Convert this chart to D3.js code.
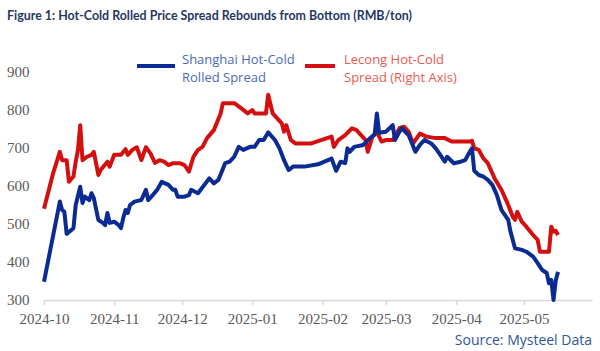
<!DOCTYPE html>
<html>
<head>
<meta charset="utf-8">
<script src="https://cdn.jsdelivr.net/npm/d3@7"></script>
<style>
  body { margin: 0; background: #fff; }
  svg { display: block; }
</style>
</head>
<body>
<div id="chart"></div>
<script>
// data
var shanghaiDates = ["2024-10-01","2024-10-08","2024-10-09","2024-10-10","2024-10-11","2024-10-14","2024-10-15","2024-10-17","2024-10-18","2024-10-19","2024-10-21","2024-10-22","2024-10-23","2024-10-25","2024-10-27","2024-10-28","2024-10-29","2024-10-30","2024-11-01","2024-11-03","2024-11-04","2024-11-05","2024-11-06","2024-11-07","2024-11-08","2024-11-10","2024-11-13","2024-11-15","2024-11-16","2024-11-18","2024-11-20","2024-11-22","2024-11-25","2024-11-27","2024-11-28","2024-11-29","2024-12-02","2024-12-04","2024-12-05","2024-12-08","2024-12-13","2024-12-15","2024-12-17","2024-12-20","2024-12-22","2024-12-24","2024-12-26","2024-12-28","2024-12-31","2025-01-02","2025-01-04","2025-01-06","2025-01-08","2025-01-11","2025-01-13","2025-01-15","2025-01-17","2025-01-19","2025-01-24","2025-01-30","2025-02-05","2025-02-07","2025-02-09","2025-02-11","2025-02-12","2025-02-13","2025-02-15","2025-02-19","2025-02-22","2025-02-24","2025-02-25","2025-02-26","2025-03-01","2025-03-04","2025-03-05","2025-03-07","2025-03-08","2025-03-11","2025-03-14","2025-03-16","2025-03-18","2025-03-21","2025-03-23","2025-03-25","2025-03-27","2025-03-28","2025-03-31","2025-04-03","2025-04-05","2025-04-07","2025-04-08","2025-04-09","2025-04-11","2025-04-13","2025-04-15","2025-04-17","2025-04-19","2025-04-21","2025-04-24","2025-04-25","2025-04-27","2025-04-30","2025-05-02","2025-05-05","2025-05-07","2025-05-09","2025-05-11","2025-05-12","2025-05-13","2025-05-14","2025-05-15","2025-05-16"];
var shanghaiValues = [348,559,537,532,474,489,550,598,555,572,563,581,568,511,503,497,529,503,506,497,489,516,537,529,550,559,563,590,563,576,590,611,603,590,590,572,572,576,590,581,620,607,616,660,664,677,703,695,703,703,721,721,741,721,699,668,642,651,651,657,672,640,664,660,699,690,703,708,726,735,791,740,743,760,721,743,752,734,690,708,721,712,699,682,664,677,660,664,668,690,699,640,629,625,616,603,576,537,511,480,436,432,427,414,397,379,371,344,353,300,352,374];

var lecongDates = ["2024-10-01","2024-10-05","2024-10-08","2024-10-09","2024-10-11","2024-10-12","2024-10-14","2024-10-15","2024-10-16","2024-10-17","2024-10-18","2024-10-20","2024-10-22","2024-10-23","2024-10-25","2024-10-26","2024-10-29","2024-10-30","2024-11-01","2024-11-04","2024-11-06","2024-11-07","2024-11-09","2024-11-11","2024-11-13","2024-11-15","2024-11-17","2024-11-19","2024-11-21","2024-11-23","2024-11-25","2024-11-27","2024-11-30","2024-12-02","2024-12-03","2024-12-04","2024-12-06","2024-12-08","2024-12-10","2024-12-12","2024-12-15","2024-12-18","2024-12-19","2024-12-24","2024-12-27","2024-12-30","2025-01-01","2025-01-02","2025-01-07","2025-01-08","2025-01-10","2025-01-12","2025-01-14","2025-01-15","2025-01-16","2025-01-18","2025-01-20","2025-01-27","2025-02-05","2025-02-06","2025-02-08","2025-02-11","2025-02-14","2025-02-16","2025-02-18","2025-02-20","2025-02-21","2025-02-23","2025-02-25","2025-02-27","2025-03-01","2025-03-04","2025-03-07","2025-03-09","2025-03-11","2025-03-13","2025-03-16","2025-03-19","2025-03-23","2025-03-27","2025-03-30","2025-04-04","2025-04-07","2025-04-08","2025-04-09","2025-04-11","2025-04-13","2025-04-15","2025-04-18","2025-04-21","2025-04-24","2025-04-26","2025-04-27","2025-04-28","2025-04-30","2025-05-02","2025-05-05","2025-05-07","2025-05-08","2025-05-12","2025-05-13","2025-05-14","2025-05-15","2025-05-16"];
var lecongValues = [540,633,690,668,668,611,625,664,695,760,668,677,682,690,629,642,664,651,682,682,697,682,695,702,668,702,686,661,668,664,655,660,660,655,647,638,677,695,703,726,747,791,818,818,805,791,800,791,791,840,791,778,765,743,760,721,712,712,730,703,721,734,752,747,734,721,690,730,743,717,721,721,752,756,743,712,738,730,726,726,717,717,717,719,699,695,673,660,620,590,550,519,511,532,506,493,471,458,427,427,493,480,482,471];

var monthTicks = ["2024-10","2024-11","2024-12","2025-01","2025-02","2025-03","2025-04","2025-05"];
var leftTicks = [300,400,500,600,700,800,900];

var W = 600, H = 351;
var margin = {top: 72, right: 8, bottom: 51, left: 44};
var parseDay = d3.timeParse("%Y-%m-%d");
var parseMonth = d3.timeParse("%Y-%m");

var svg = d3.select("#chart")
    .append("svg")
    .attr("width", W)
    .attr("height", H);

var x = d3.scaleTime()
    .domain([parseDay("2024-10-01"), parseDay("2025-05-31")])
    .range([margin.left, W - margin.right]);

var y = d3.scaleLinear()
    .domain([300, 900])
    .range([H - margin.bottom, margin.top]);

// right axis is not labelled in the picture, same span as left
var yRight = d3.scaleLinear()
    .domain([300, 900])
    .range([H - margin.bottom, margin.top]);

// title
svg.append("text")
    .attr("x", 7)
    .attr("y", 20)
    .attr("font-family", "Lato, 'Open Sans', sans-serif")
    .attr("font-weight", "bold")
    .attr("font-size", 14)
    .attr("fill", "#1f3864")
    .attr("textLength", 405)
    .attr("lengthAdjust", "spacingAndGlyphs")
    .text("Figure 1: Hot-Cold Rolled Price Spread Rebounds from Bottom (RMB/ton)");

// x axis
var xAxis = svg.append("g")
    .attr("transform", `translate(0,${H - margin.bottom})`)
    .call(d3.axisBottom(x)
        .tickValues(monthTicks.map(function(m) { return parseMonth(m); }))
        .tickFormat(d3.timeFormat("%Y-%m"))
        .tickSizeInner(5)
        .tickSizeOuter(0)
        .tickPadding(8));
xAxis.select(".domain").attr("stroke", "#d9d9d9").attr("stroke-width", 1.5);
xAxis.selectAll(".tick line").attr("stroke", "#d9d9d9").attr("stroke-width", 1.5);
xAxis.selectAll(".tick text")
    .attr("font-family", "'Liberation Serif', 'DejaVu Serif', serif")
    .attr("font-size", 15)
    .attr("fill", "#595959");

// y axis (labels only)
var yAxis = svg.append("g")
    .attr("transform", `translate(${margin.left},0)`)
    .call(d3.axisLeft(y)
        .tickValues(leftTicks)
        .tickFormat(d3.format("d"))
        .tickSize(0)
        .tickPadding(12));
yAxis.select(".domain").remove();
yAxis.selectAll(".tick text")
    .attr("text-anchor", "start")
    .attr("x", -37)
    .attr("font-family", "'Liberation Serif', 'DejaVu Serif', serif")
    .attr("font-size", 15)
    .attr("fill", "#595959");

var shanghai = shanghaiDates.map(function(d, i) { return {date: parseDay(d), value: shanghaiValues[i]}; });
var lecong = lecongDates.map(function(d, i) { return {date: parseDay(d), value: lecongValues[i]}; });

svg.append("path")
    .datum(lecong)
    .attr("fill", "none")
    .attr("stroke", "#d40f0f")
    .attr("stroke-width", 4)
    .attr("stroke-linejoin", "round")
    .attr("d", d3.line()
        .x(function(d) { return x(d.date) })
        .y(function(d) { return yRight(d.value) })
    );

svg.append("path")
    .datum(shanghai)
    .attr("fill", "none")
    .attr("stroke", "#0a2b93")
    .attr("stroke-width", 4)
    .attr("stroke-linejoin", "round")
    .attr("d", d3.line()
        .x(function(d) { return x(d.date) })
        .y(function(d) { return y(d.value) })
    );

// legend
var legendFont = "'Open Sans', 'Noto Sans', sans-serif";
svg.append("line")
    .attr("x1", 137).attr("x2", 175).attr("y1", 66).attr("y2", 66)
    .attr("stroke", "#0a2b93").attr("stroke-width", 4);
var lt1 = svg.append("text")
    .attr("font-family", legendFont)
    .attr("font-size", 13)
    .attr("fill", "#4a6bb5");
lt1.append("tspan").attr("x", 182).attr("y", 64).text("Shanghai Hot-Cold");
lt1.append("tspan").attr("x", 182).attr("y", 82).text("Rolled Spread");

svg.append("line")
    .attr("x1", 305).attr("x2", 335).attr("y1", 66).attr("y2", 66)
    .attr("stroke", "#d40f0f").attr("stroke-width", 4);
var lt2 = svg.append("text")
    .attr("font-family", legendFont)
    .attr("font-size", 13)
    .attr("fill", "#ec5a4f");
lt2.append("tspan").attr("x", 344).attr("y", 64).text("Lecong Hot-Cold");
lt2.append("tspan").attr("x", 344).attr("y", 82).text("Spread (Right Axis)");

// source
svg.append("text")
    .attr("x", 592)
    .attr("y", 345)
    .attr("text-anchor", "end")
    .attr("font-family", legendFont)
    .attr("font-size", 14)
    .attr("fill", "#2f5597")
    .text("Source: Mysteel Data");
</script>
</body>
</html>
